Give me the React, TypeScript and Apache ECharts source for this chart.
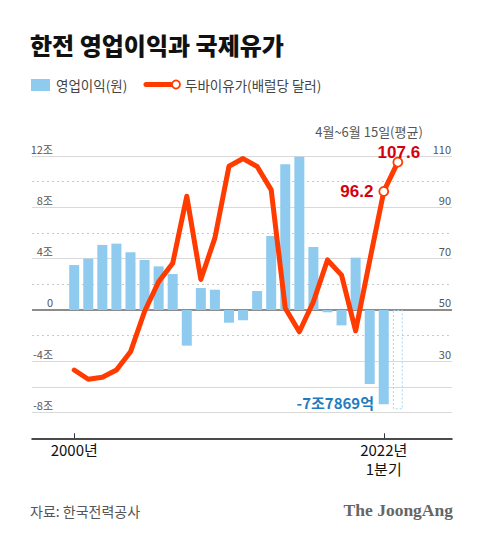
import React, { useEffect, useRef } from "react";
import * as echarts from "echarts";

// ---- data ----
const years = [2000, 2001, 2002, 2003, 2004, 2005, 2006, 2007, 2008, 2009, 2010, 2011, 2012, 2013, 2014, 2015, 2016, 2017, 2018, 2019, 2020, 2021, 2022];
// 한전 영업이익 (조원)
const profit = [3.5, 4.0, 5.07, 5.17, 4.5, 3.9, 3.4, 2.8, -2.78, 1.71, 1.58, -0.99, -0.8, 1.48, 5.77, 11.35, 11.95, 4.91, -0.18, -1.2, 4.08, -5.77, -7.35];
// 점선 막대 (2022년 다음 자리)
const projectedYear = 2023;
const projectedProfit = -7.74;
// 두바이유가 (배럴당 달러)
const oil = [26.6, 23.0, 23.8, 26.6, 33.7, 49.4, 61.0, 68.2, 94.3, 61.9, 78.1, 106.0, 109.0, 105.9, 96.8, 50.7, 41.5, 53.2, 69.5, 63.6, 41.9, 69.2, 96.2];
const oilLatestYear = 2023;
const oilLatest = 107.6;

const xTickValues = [2000, 2022];
const xTickLabels = ["2000년", "2022년\n1분기"];
const dashedLevels = [10, 6, 2, -2];

const BAR = "#8fcaef";
const RED = "#ff3b00";
const FONT = "'Noto Sans CJK KR', 'Noto Sans', sans-serif";

export default function App() {
  const ref = useRef<HTMLDivElement>(null);
  useEffect(() => {
    document.body.style.margin = "0";
    const chart = echarts.init(ref.current!, null, { renderer: "svg" });

    const barData: any[] = years.map((y, i) => [y, profit[i]]);
    barData.push({
      value: [projectedYear, projectedProfit],
      itemStyle: { color: "rgba(255,255,255,0)", borderColor: "#a9d6f2", borderWidth: 1, borderType: [2, 2] },
    });

    const lineData: any[] = years.map((y, i) => {
      const item: any = { value: [y, oil[i]], symbol: "none" };
      if (i === years.length - 1) {
        item.symbol = "circle";
        item.label = {
          show: true, position: "left", distance: 5, formatter: String(oil[i]),
          color: "#d6000f", fontSize: 17, fontWeight: "bold", fontFamily: "'Liberation Sans', Arial, sans-serif",
        };
      }
      return item;
    });
    lineData.push({
      value: [oilLatestYear, oilLatest],
      symbol: "circle",
      label: {
        show: true, position: "top", distance: 0, offset: [1, 4], formatter: String(oilLatest),
        color: "#d6000f", fontSize: 17, fontWeight: "bold", fontFamily: "'Liberation Sans', Arial, sans-serif",
      },
    });

    const splitColors = [
      "rgba(0,0,0,0)", "#d9d9d9", "#d9d9d9", "#d9d9d9", "rgba(0,0,0,0)", "rgba(0,0,0,0)",
      "rgba(0,0,0,0)", "#d9d9d9", "rgba(0,0,0,0)", "#d9d9d9", "rgba(0,0,0,0)", "#d9d9d9",
    ];

    chart.setOption({
      animation: false,
      textStyle: { fontFamily: FONT },
      grid: { left: 32, right: 28, top: 156, bottom: 101.7, containLabel: false },
      xAxis: {
        type: "value",
        min: 1997,
        max: 2026.85,
        splitLine: { show: false },
        axisLine: { show: true, onZero: false, lineStyle: { color: "#111", width: 1.5 } },
        axisTick: { show: true, inside: true, length: 5, customValues: xTickValues, lineStyle: { color: "#333", width: 1 } },
        axisLabel: {
          show: true,
          customValues: xTickValues,
          formatter: (v: number) => xTickLabels[xTickValues.indexOf(v)] ?? "",
          color: "#111",
          fontSize: 15,
          lineHeight: 19,
          margin: 2,
          verticalAlign: "top",
          fontFamily: FONT,
        },
      },
      yAxis: [
        {
          type: "value",
          min: -10,
          max: 12,
          interval: 2,
          position: "left",
          axisLine: { show: false },
          axisTick: { show: false },
          splitLine: { show: true, lineStyle: { color: splitColors, width: 1 } },
          axisLabel: {
            inside: true,
            align: "right",
            margin: 21,
            verticalAlign: "bottom",
            padding: [0, 0, 2, 0],
            fontSize: 11,
            color: "#555",
            showMaxLabel: true,
            showMinLabel: true,
            formatter: (v: number) => (v % 4 === 0 ? (v === 0 ? "0" : v + "조") : ""),
          },
        },
        {
          type: "value",
          min: 0,
          max: 110,
          interval: 10,
          position: "right",
          axisLine: { show: false },
          axisTick: { show: false },
          splitLine: { show: false },
          axisLabel: {
            inside: true,
            margin: 1,
            verticalAlign: "bottom",
            padding: [0, 0, 2, 0],
            fontSize: 11,
            color: "#555",
            showMaxLabel: true,
            formatter: (v: number) => (v >= 30 && (v - 10) % 20 === 0 ? String(v) : ""),
          },
        },
      ],
      series: [
        {
          type: "bar",
          yAxisIndex: 0,
          barWidth: 10,
          itemStyle: { color: BAR },
          data: barData,
          z: 2,
          markLine: {
            silent: true,
            symbol: ["none", "none"],
            label: { show: false },
            z: 1,
            data: [
              ...dashedLevels.map((v) => ({ yAxis: v, lineStyle: { color: "#c9c9c9", type: [2, 3], width: 1 } })),
              { yAxis: 0, lineStyle: { color: "#666", type: "solid", width: 1.5 } },
            ],
          },
        },
        {
          type: "line",
          yAxisIndex: 1,
          data: lineData,
          symbol: "circle",
          symbolSize: 9,
          showSymbol: true,
          lineStyle: { color: RED, width: 5, join: "round", cap: "round" },
          itemStyle: { color: "#fff", borderColor: RED, borderWidth: 1.8 },
          z: 5,
        },
      ],
      graphic: [
        {
          type: "text", x: 30, y: 44,
          style: { text: "한전 영업이익과 국제유가", fontSize: 24, fontWeight: 900, fontFamily: FONT, fill: "#111", verticalAlign: "middle" },
        },
        { type: "rect", shape: { x: 31, y: 79, width: 19, height: 12 }, style: { fill: BAR } },
        {
          type: "text", x: 56, y: 85,
          style: { text: "영업이익(원)", fontSize: 13.5, fontFamily: FONT, fill: "#444", verticalAlign: "middle" },
        },
        { type: "line", shape: { x1: 146, y1: 84.5, x2: 172, y2: 84.5 }, style: { stroke: RED, lineWidth: 5, lineCap: "round" } },
        { type: "circle", shape: { cx: 176, cy: 84.5, r: 4 }, style: { fill: "#fff", stroke: RED, lineWidth: 1.8 } },
        {
          type: "text", x: 185, y: 85,
          style: { text: "두바이유가(배럴당 달러)", fontSize: 13.5, fontFamily: FONT, fill: "#444", verticalAlign: "middle" },
        },
        {
          type: "text", x: 369, y: 131,
          style: { text: "4월~6월 15일(평균)", fontSize: 13, fontFamily: FONT, fill: "#555", align: "center", verticalAlign: "middle" },
        },
        {
          type: "text", x: 374, y: 402,
          style: { text: "-7조7869억", fontSize: 15, fontWeight: "bold", fontFamily: FONT, fill: "#1f7cc0", align: "right", verticalAlign: "middle" },
        },
        {
          type: "text", x: 30, y: 511,
          style: { text: "자료: 한국전력공사", fontSize: 14, fontFamily: FONT, fill: "#555", verticalAlign: "middle" },
        },
        {
          type: "text", x: 453, y: 510,
          style: { text: "The JoongAng", fontSize: 17.5, fontWeight: "bold", fontFamily: "'Liberation Serif', 'DejaVu Serif', serif", fill: "#666", align: "right", verticalAlign: "middle" },
        },
      ],
    });
    return () => chart.dispose();
  }, []);
  return <div ref={ref} style={{ width: 480, height: 540 }} />;
}
